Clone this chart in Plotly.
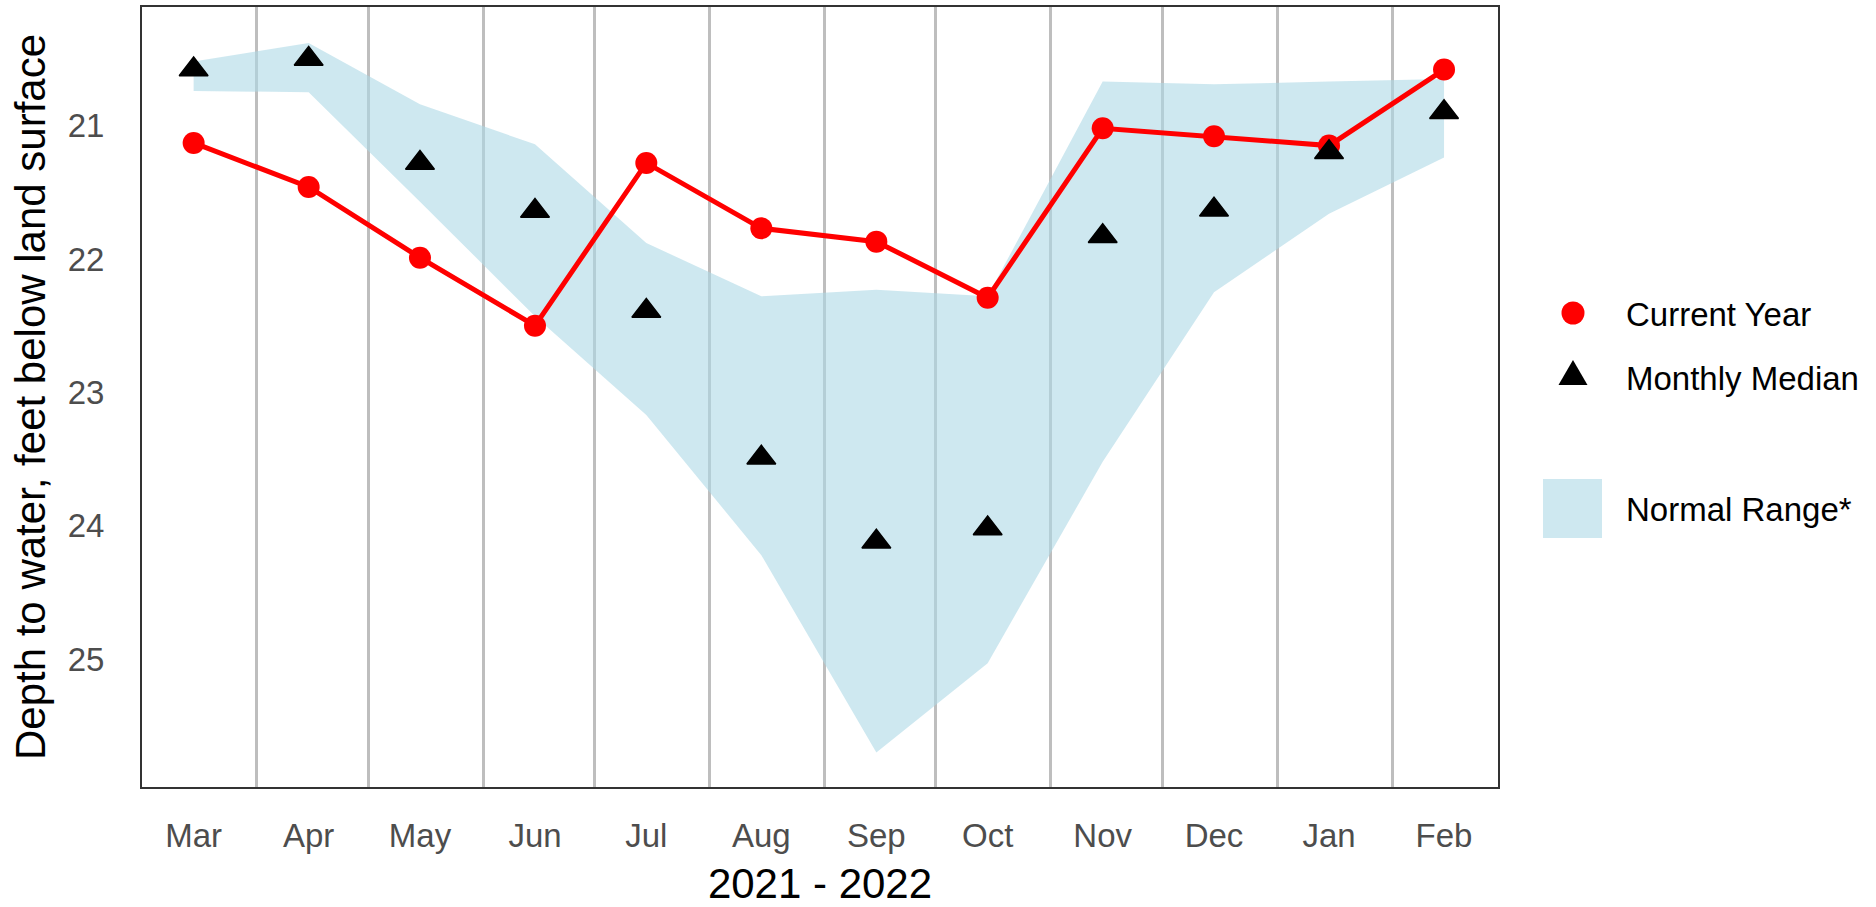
"""
Groundwater depth: current year vs monthly median and normal range.
"""

import pandas as pd
import plotly.graph_objects as go

FONT = "Liberation Sans, Arial, sans-serif"

MONTHS = ["Mar", "Apr", "May", "Jun", "Jul", "Aug", "Sep", "Oct", "Nov", "Dec", "Jan", "Feb"]
DATES = pd.date_range("2021-03-01", periods=12, freq="MS") + pd.Timedelta(days=14)

CURRENT_YEAR = [21.13, 21.46, 21.99, 22.50, 21.28, 21.77, 21.87, 22.29, 21.02, 21.08, 21.15, 20.58]
MONTHLY_MEDIAN = [20.58, 20.50, 21.28, 21.64, 22.39, 23.49, 24.12, 24.02, 21.83, 21.63, 21.20, 20.90]
RANGE_SHALLOW = [20.52, 20.38, 20.84, 21.14, 21.88, 22.28, 22.23, 22.28, 20.67, 20.69, 20.67, 20.65]
RANGE_DEEP = [20.74, 20.75, 21.57, 22.43, 23.17, 24.22, 25.70, 25.03, 23.52, 22.25, 21.66, 21.24]

Y_TICKS = [21, 22, 23, 24, 25]

# figure geometry (px)
W, H = 1876, 907
ML, MR, MT, MB = 142, 378, 7, 120

BAND = "rgba(173,216,230,0.6)"

month_starts = pd.date_range("2021-04-01", "2022-02-01", freq="MS")

fig = go.Figure()

fig.add_trace(go.Scatter(
    x=DATES, y=RANGE_SHALLOW, mode="lines", line=dict(width=0),
    showlegend=False, hoverinfo="skip",
))
fig.add_trace(go.Scatter(
    x=DATES, y=RANGE_DEEP, mode="lines", line=dict(width=0),
    fill="tonexty", fillcolor=BAND, showlegend=False, name="Normal Range*",
))
fig.add_trace(go.Scatter(
    x=DATES, y=CURRENT_YEAR, mode="lines+markers", name="Current Year",
    line=dict(color="#ff0000", width=5),
    marker=dict(color="#ff0000", size=22),
    showlegend=False,
))
fig.add_trace(go.Scatter(
    x=DATES, y=MONTHLY_MEDIAN, mode="markers", name="Monthly Median",
    marker=dict(color="black", symbol="triangle-up", size=25,
                line=dict(color="black", width=1.5)),
    showlegend=False,
))


def px_x(x):
    return (x - ML) / (W - ML - MR)


def px_y(y):
    return (H - MB - y) / (H - MT - MB)


# hand-made legend to get ggplot-sized keys
key_x = 1573
fig.add_shape(type="circle", xref="paper", yref="paper",
              x0=px_x(key_x - 11.5), x1=px_x(key_x + 11.5),
              y0=px_y(313 + 11.5), y1=px_y(313 - 11.5),
              fillcolor="#ff0000", line=dict(width=0))
tri = "M {:.4f},{:.4f} L {:.4f},{:.4f} L {:.4f},{:.4f} Z".format(
    px_x(key_x - 14.5), px_y(385), px_x(key_x + 14.5), px_y(385), px_x(key_x), px_y(360))
fig.add_shape(type="path", xref="paper", yref="paper", path=tri,
              fillcolor="black", line=dict(width=0))
fig.add_shape(type="rect", xref="paper", yref="paper",
              x0=px_x(1543), x1=px_x(1602), y0=px_y(538), y1=px_y(479),
              fillcolor=BAND, line=dict(width=0))
for label, yc in [("Current Year", 314), ("Monthly Median", 378), ("Normal Range*", 510)]:
    fig.add_annotation(text=label, xref="paper", yref="paper",
                       x=px_x(1624), y=px_y(yc), xanchor="left", yanchor="middle",
                       showarrow=False, font=dict(family=FONT, size=33, color="black"))

fig.update_layout(
    width=W, height=H,
    margin=dict(l=ML, r=MR, t=MT, b=MB),
    plot_bgcolor="white", paper_bgcolor="white",
    font=dict(family=FONT),
    showlegend=False,
)
fig.update_xaxes(
    type="date",
    range=["2021-03-01 02:00", "2022-03-01 13:00"],
    tickmode="array", tickvals=DATES, ticktext=MONTHS,
    ticks="outside", ticklen=18, tickcolor="rgba(0,0,0,0)",
    tickfont=dict(family=FONT, size=33, color="#4d4d4d"),
    showgrid=False,
    minor=dict(tickmode="array", tickvals=month_starts, showgrid=True,
               gridcolor="#bebebe", gridwidth=2.5, ticks=""),
    showline=True, mirror=True, linecolor="#333333", linewidth=2,
    zeroline=False, automargin=False,
    title=dict(text="2021 - 2022", font=dict(family=FONT, size=42, color="black"), standoff=25),
)
fig.update_yaxes(
    range=[25.958, 20.111],
    tickmode="array", tickvals=Y_TICKS, ticktext=[str(t) for t in Y_TICKS],
    ticks="outside", ticklen=29, tickcolor="rgba(0,0,0,0)",
    tickfont=dict(family=FONT, size=33, color="#4d4d4d"),
    showgrid=False, zeroline=False, automargin=False,
    showline=True, mirror=True, linecolor="#333333", linewidth=2,
    title=dict(text="Depth to water, feet below land surface",
               font=dict(family=FONT, size=42, color="black"), standoff=9),
)

# the page's default body margin would shift the whole figure by 8px
fig.write_html(
    "out.html",
    config={"displayModeBar": False},
    post_script="document.body.style.margin='0';",
)
